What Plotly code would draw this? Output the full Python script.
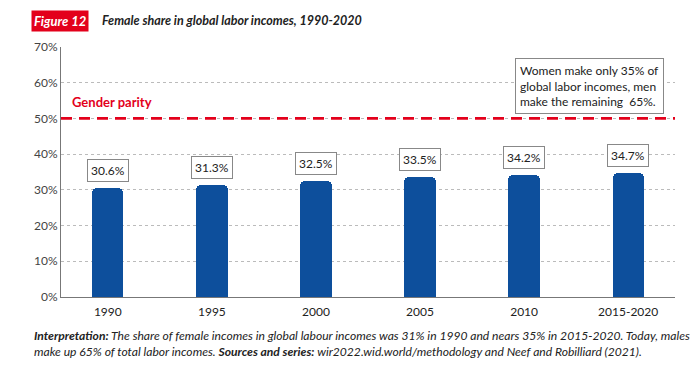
import plotly.graph_objects as go

categories = ["1990", "1995", "2000", "2005", "2010", "2015-2020"]
female_share = [30.6, 31.3, 32.5, 33.5, 34.2, 34.7]
value_labels = ["30.6%", "31.3%", "32.5%", "33.5%", "34.2%", "34.7%"]
y_ticks = [0, 10, 20, 30, 40, 50, 60, 70]
y_tick_labels = ["0%", "10%", "20%", "30%", "40%", "50%", "60%", "70%"]
parity_level = 50

BLUE = "#0d4f9c"
RED = "#e3001b"
FONT = "Lato"

fig = go.Figure()
fig.add_trace(go.Bar(
    x=list(range(len(categories))), y=female_share,
    width=0.3, marker=dict(color=BLUE, cornerradius=5, line=dict(width=0)),
    hoverinfo="skip", showlegend=False,
))

for i, (v, lab) in enumerate(zip(female_share, value_labels)):
    fig.add_annotation(
        x=i, y=v, text=lab, showarrow=False, yanchor="bottom", yshift=6,
        font=dict(family=FONT, size=12, color="#222"),
        bordercolor="#888", borderwidth=1, borderpad=3, bgcolor="white",
    )

fig.add_shape(type="line", xref="paper", x0=0, x1=1, y0=parity_level, y1=parity_level,
              line=dict(color=RED, width=2.8, dash="11px,7px"))
fig.add_annotation(xref="paper", x=0.014, y=parity_level, yanchor="bottom", xanchor="left",
                   yshift=6, text="<b>Gender parity</b>", showarrow=False,
                   font=dict(family=FONT, size=13, color=RED))

fig.add_annotation(
    x=4.63, y=59, text="Women make only 35% of<br>global labor incomes, men<br>make the remaining  65%.",
    showarrow=False, align="left", font=dict(family=FONT, size=12, color="#222"),
    bordercolor="#888", borderwidth=1, borderpad=4, bgcolor="white",
)

# Title
fig.add_annotation(xref="paper", yref="paper", x=-0.002, y=1.104, xanchor="center", yanchor="middle",
                   text="<b><i>Figure 12</i></b>", showarrow=False,
                   font=dict(family=FONT, size=13, color="white"), bgcolor=RED, borderpad=2)
fig.add_annotation(xref="paper", yref="paper", x=0.0635, y=1.104, xanchor="left", yanchor="middle",
                   text="<b><i>Female share in global labor incomes, 1990-2020</i></b>", showarrow=False,
                   font=dict(family=FONT, size=12.5, color="#222"))

# Caption
fig.add_annotation(
    xref="paper", yref="paper", x=-0.047, y=-0.115, xanchor="left", yanchor="top", align="left",
    text=("<i><b>Interpretation:</b> The share of female incomes in global labour incomes was 31% in 1990 and nears 35% in 2015-2020. Today, males<br>"
          "make up 65% of total labor incomes. <b>Sources and series:</b> wir2022.wid.world/methodology and Neef and Robilliard (2021).</i>"),
    showarrow=False, font=dict(family=FONT, size=12.1, color="#222"),
)

fig.update_layout(
    width=692, height=362,
    margin=dict(l=53, r=25, t=39, b=73),
    paper_bgcolor="white", plot_bgcolor="white",
    xaxis=dict(tickmode="array", tickvals=list(range(len(categories))), ticktext=categories,
               range=[-0.45, 5.45], showline=True, linecolor="#777", linewidth=1,
               showgrid=False, ticks="", ticklabelstandoff=4,
               tickfont=dict(family=FONT, size=12, color="#222"), fixedrange=True),
    yaxis=dict(tickmode="array", tickvals=y_ticks, ticktext=y_tick_labels, range=[0, 70],
               showline=True, linecolor="#777", linewidth=1, showgrid=True,
               gridcolor="#bbb", griddash="dot", gridwidth=1, ticks="", zeroline=False,
               tickfont=dict(family=FONT, size=12, color="#444"), fixedrange=True),
    bargap=0,
)

fig.write_html("out.html")
